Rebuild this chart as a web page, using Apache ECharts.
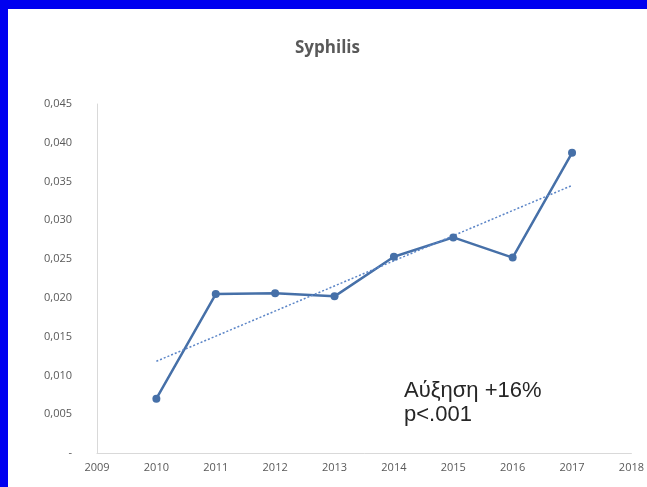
<!DOCTYPE html>
<html>
<head>
<meta charset="utf-8">
<script src="https://cdn.jsdelivr.net/npm/echarts@6/dist/echarts.min.js"></script>
<style>
  html, body { margin: 0; padding: 0; background: #0000f0; }
  #chart { position: absolute; left: 8px; top: 9px; width: 639px; height: 478px; background: #ffffff; }
</style>
</head>
<body>
<div id="chart"></div>
<script>
// Syphilis incidence per year
const years = [2010, 2011, 2012, 2013, 2014, 2015, 2016, 2017];
const rates = [0.0070, 0.0205, 0.0206, 0.0202, 0.0253, 0.0278, 0.0252, 0.0387];
const yTicks = ['-', '0,005', '0,010', '0,015', '0,020', '0,025', '0,030', '0,035', '0,040', '0,045'];

// Least-squares linear trend over the observed years
function linearTrend(xs, ys) {
  const n = xs.length;
  const mx = xs.reduce((a, b) => a + b, 0) / n;
  const my = ys.reduce((a, b) => a + b, 0) / n;
  let sxy = 0, sxx = 0;
  for (let i = 0; i < n; i++) {
    sxy += (xs[i] - mx) * (ys[i] - my);
    sxx += (xs[i] - mx) * (xs[i] - mx);
  }
  const slope = sxy / sxx;
  const icpt = my - slope * mx;
  return [[xs[0], icpt + slope * xs[0]], [xs[n - 1], icpt + slope * xs[n - 1]]];
}

const chart = echarts.init(document.getElementById('chart'));
chart.setOption({
  animation: false,
  title: {
    text: 'Syphilis',
    left: 'center',
    top: 26,
    textStyle: { fontFamily: 'Open Sans', fontWeight: 'bold', fontSize: 17, color: '#595959' }
  },
  grid: { left: 89, right: 15, top: 95, bottom: 34 },
  xAxis: {
    type: 'value',
    min: 2009, max: 2018, interval: 1,
    axisLine: { show: true, lineStyle: { color: '#d9d9d9', width: 1 } },
    axisTick: { show: false },
    splitLine: { show: false },
    axisLabel: { color: '#595959', fontSize: 11, fontFamily: 'Open Sans', margin: 9, formatter: v => String(v) }
  },
  yAxis: {
    type: 'value',
    min: 0, max: 0.045, interval: 0.005,
    axisLine: { show: true, lineStyle: { color: '#d9d9d9', width: 1 } },
    axisTick: { show: false },
    splitLine: { show: false },
    axisLabel: {
      color: '#595959', fontSize: 11, fontFamily: 'Open Sans', margin: 25,
      formatter: v => yTicks[Math.round(v / 0.005)]
    }
  },
  series: [
    {
      type: 'line',
      data: years.map((y, i) => [y, rates[i]]),
      symbol: 'circle', symbolSize: 8,
      lineStyle: { color: '#4670a8', width: 2.5 },
      itemStyle: { color: '#4670a8' }
    },
    {
      type: 'line',
      data: linearTrend(years, rates),
      symbol: 'none',
      lineStyle: { color: '#5b85c7', width: 1.5, type: [2, 2] }
    }
  ],
  graphic: [{
    type: 'text',
    left: 396, top: 370,
    style: {
      text: 'Αύξηση +16%\np<.001',
      font: '22px "Liberation Sans"',
      lineHeight: 24,
      fill: '#262626'
    }
  }]
});
</script>
</body>
</html>
